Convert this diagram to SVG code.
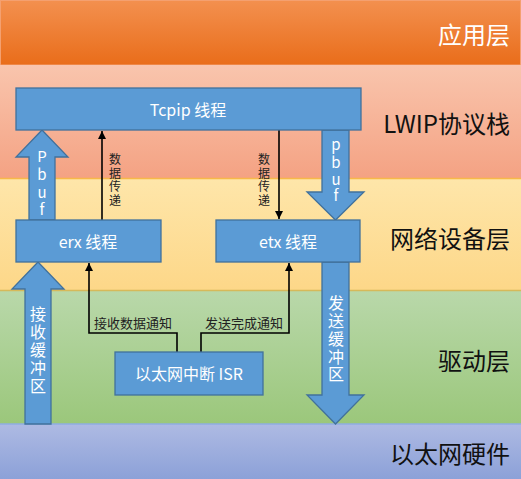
<svg xmlns="http://www.w3.org/2000/svg" width="521" height="479" viewBox="0 0 521 479">
<defs>
<linearGradient id="gApp" x1="0" y1="0" x2="0" y2="1"><stop offset="0" stop-color="#f3904f"/><stop offset="1" stop-color="#e96d1a"/></linearGradient>
<linearGradient id="gLwip" x1="0" y1="0" x2="0" y2="1"><stop offset="0" stop-color="#f9c5ad"/><stop offset="1" stop-color="#f4a283"/></linearGradient>
<linearGradient id="gNet" x1="0" y1="0" x2="0" y2="1"><stop offset="0" stop-color="#fee6aa"/><stop offset="1" stop-color="#fdd788"/></linearGradient>
<linearGradient id="gDrv" x1="0" y1="0" x2="0" y2="1"><stop offset="0" stop-color="#b9d8aa"/><stop offset="1" stop-color="#9bc77b"/></linearGradient>
<linearGradient id="gHw" x1="0" y1="0" x2="0" y2="1"><stop offset="0" stop-color="#aebae3"/><stop offset="1" stop-color="#8ca1d8"/></linearGradient>
<marker id="ah" viewBox="0 0 10 10" refX="10" refY="5" markerWidth="8" markerHeight="8" markerUnits="userSpaceOnUse" orient="auto"><path d="M0,0 L10,5 L0,10 z" fill="#000"/></marker>
</defs>
<style>
.box{fill:#5b9bd5;stroke:#41719c;stroke-width:1.3}
.bt{font-family:"Noto Sans CJK SC","Liberation Sans",sans-serif;font-size:16px;fill:#fff;text-anchor:middle;dominant-baseline:central}
.layer{font-family:"Noto Sans CJK SC","Liberation Sans",sans-serif;font-size:24px;text-anchor:end;dominant-baseline:central;fill:#111}
.vt{font-family:"Noto Sans CJK SC","Liberation Sans",sans-serif;font-size:15px;fill:#fff;text-anchor:middle;dominant-baseline:central}
.vl{font-family:"Noto Sans CJK SC",sans-serif;font-size:12px;fill:#222;text-anchor:middle;dominant-baseline:central}
.lbl{font-family:"Noto Sans CJK SC",sans-serif;font-size:13px;fill:#222;dominant-baseline:central}
.wire{fill:none;stroke:#000;stroke-width:1.6}
</style>
<g id="bands">
<rect x="0.5" y="0.5" width="520" height="64.5" fill="url(#gApp)" stroke="#f4a070" stroke-width="1"/>
<rect x="0" y="65" width="521" height="113" fill="url(#gLwip)"/>
<rect x="0" y="178" width="521" height="113" fill="url(#gNet)"/>
<line x1="0" y1="178.5" x2="521" y2="178.5" stroke="#f7b84a" stroke-width="1.5"/>
<rect x="0" y="291" width="521" height="133" fill="url(#gDrv)"/>
<line x1="0" y1="290.5" x2="521" y2="290.5" stroke="#d6b95a" stroke-width="1.5"/>
<rect x="0" y="424" width="521" height="55" fill="url(#gHw)"/>
<line x1="0" y1="424" x2="521" y2="424" stroke="#8faee0" stroke-width="1.5"/>
<text class="layer" x="510" y="33" style="fill:#fff">应用层</text>
<text class="layer" x="510" y="122">LWIP协议栈</text>
<text class="layer" x="510" y="237">网络设备层</text>
<text class="layer" x="510" y="359">驱动层</text>
<text class="layer" x="510" y="452">以太网硬件</text>
</g>
<g id="connectors">
<polygon class="box" points="42,130 68,157 55,157 55,220 29,220 29,157 16,157"/>
<text class="vt"><tspan x="42" y="155">P</tspan><tspan x="42" y="173">b</tspan><tspan x="42" y="191">u</tspan><tspan x="42" y="208">f</tspan></text>
<polygon class="box" points="322,130 349,130 349,192 364,192 335.5,220 307,192 322,192"/>
<text class="vt"><tspan x="336" y="143">p</tspan><tspan x="336" y="161">b</tspan><tspan x="336" y="178">u</tspan><tspan x="336" y="194">f</tspan></text>
<polygon class="box" points="38,262 64,289 51,289 51,424 25,424 25,289 12,289"/>
<text class="vt" style="font-size:16px"><tspan x="38" y="313">接</tspan><tspan x="38" y="331">收</tspan><tspan x="38" y="349">缓</tspan><tspan x="38" y="367">冲</tspan><tspan x="38" y="385">区</tspan></text>
<polygon class="box" points="322,262 349,262 349,395 364,395 335.5,424 307,395 322,395"/>
<text class="vt" style="font-size:16px"><tspan x="336" y="302">发</tspan><tspan x="336" y="320">送</tspan><tspan x="336" y="338">缓</tspan><tspan x="336" y="356">冲</tspan><tspan x="336" y="373">区</tspan></text>
<line class="wire" x1="102" y1="220" x2="102" y2="131" marker-end="url(#ah)"/>
<text class="vl"><tspan x="115" y="158">数</tspan><tspan x="115" y="172">据</tspan><tspan x="115" y="185">传</tspan><tspan x="115" y="199">递</tspan></text>
<line class="wire" x1="279" y1="130" x2="279" y2="219" marker-end="url(#ah)"/>
<text class="vl"><tspan x="264" y="158">数</tspan><tspan x="264" y="172">据</tspan><tspan x="264" y="185">传</tspan><tspan x="264" y="199">递</tspan></text>
<polyline class="wire" points="177,352 177,333 89,333 89,263" marker-end="url(#ah)"/>
<polyline class="wire" points="201,352 201,333 289,333 289,263" marker-end="url(#ah)"/>
<text class="lbl" x="94" y="322">接收数据通知</text>
<text class="lbl" x="205" y="322">发送完成通知</text>
</g>
<g id="tcpip"><rect class="box" x="16" y="88" width="345" height="42"/><text class="bt" x="188" y="109">Tcpip 线程</text></g>
<g id="erx"><rect class="box" x="16" y="220" width="145" height="42"/><text class="bt" x="88" y="241">erx 线程</text></g>
<g id="etx"><rect class="box" x="216" y="220" width="144" height="42"/><text class="bt" x="288" y="241">etx 线程</text></g>
<g id="isr"><rect class="box" x="115" y="352" width="148" height="43"/><text class="bt" x="189" y="373">以太网中断 ISR</text></g>
</svg>
